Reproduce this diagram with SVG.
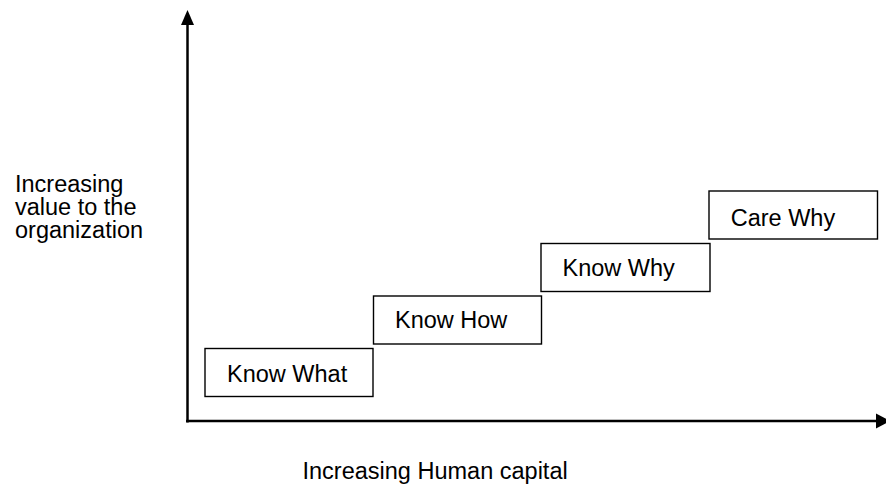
<svg xmlns="http://www.w3.org/2000/svg" width="886" height="484" viewBox="0 0 886 484">
<style>
  text { font-family: "Liberation Sans", Arial, sans-serif; font-size: 23.5px; fill: #000; }
  .box rect { fill: #fff; stroke: #000; stroke-width: 1.4; }
  .axis { stroke: #000; stroke-width: 2.5; fill: none; }
</style>
<rect width="886" height="484" fill="#fff"/>
<g id="connectors">
  <line class="axis" x1="187.5" y1="422.5" x2="187.5" y2="22"/>
  <polygon points="187.5,10 181,25 194,25" fill="#000"/>
  <line class="axis" x1="186" y1="421" x2="878" y2="421"/>
  <polygon points="890,421 876,413.5 876,428.5" fill="#000"/>
</g>
<g id="y-label">
  <text x="15" y="192">Increasing</text>
  <text x="15" y="215">value to the</text>
  <text x="15" y="238">organization</text>
</g>
<g id="x-label">
  <text x="302.5" y="479">Increasing Human capital</text>
</g>
<g id="know-what" class="box">
  <rect x="205" y="348.5" width="168" height="48"/>
  <text x="227" y="381.7">Know What</text>
</g>
<g id="know-how" class="box">
  <rect x="373.5" y="296" width="168" height="48"/>
  <text x="395" y="328.3">Know How</text>
</g>
<g id="know-why" class="box">
  <rect x="541" y="243.5" width="169" height="48"/>
  <text x="562.5" y="276">Know Why</text>
</g>
<g id="care-why" class="box">
  <rect x="709" y="191" width="168.5" height="48"/>
  <text x="730.7" y="225.7">Care Why</text>
</g>
</svg>
